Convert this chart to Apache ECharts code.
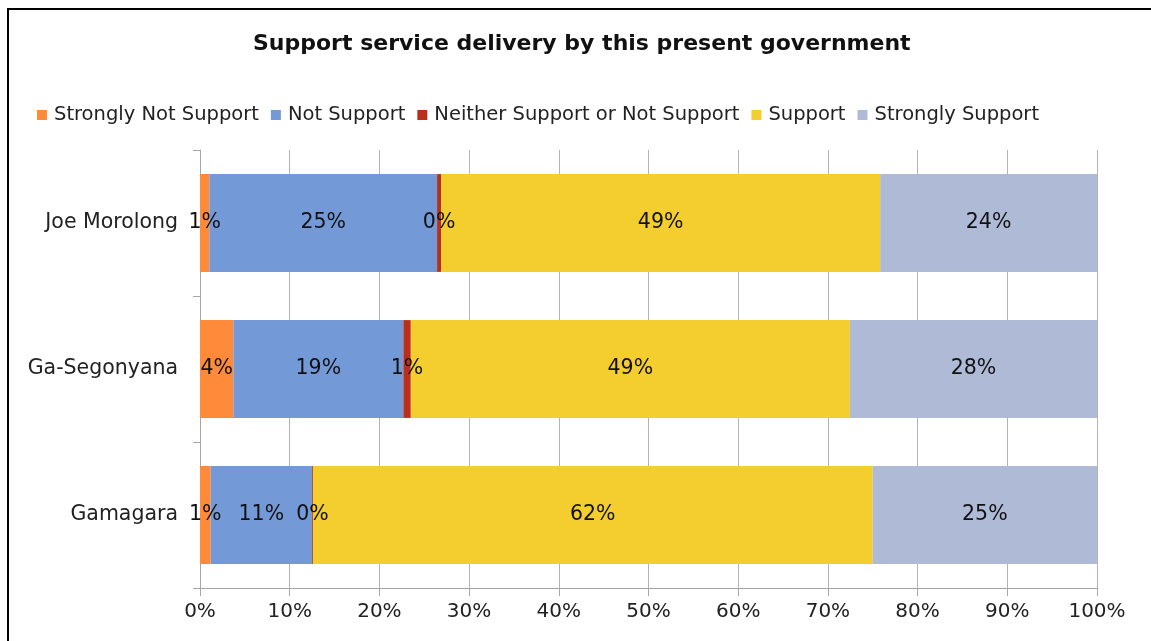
<!DOCTYPE html>
<html>
<head>
<meta charset="utf-8">
<script src="https://cdn.jsdelivr.net/npm/echarts@6/dist/echarts.min.js"></script>
<style>
  html, body { margin: 0; padding: 0; background: #fff; }
  #chart { width: 1151px; height: 641px; }
</style>
</head>
<body>
<div id="chart"></div>
<script>
// Municipalities, listed top to bottom
const municipalities = ['Joe Morolong', 'Ga-Segonyana', 'Gamagara'];

// Share of respondents (%) per response, in the same order as municipalities
const stronglyNotSupport = [1.04, 3.72, 1.19];
const notSupport = [25.39, 18.95, 11.30];
const neitherSupport = [0.45, 0.83, 0.10];
const support = [48.95, 48.95, 62.40];
const stronglySupport = [24.17, 27.55, 25.01];

const xTicks = [0, 10, 20, 30, 40, 50, 60, 70, 80, 90, 100];

const FONT = 'DejaVu Sans';

const seriesDefs = [
  { name: 'Strongly Not Support', data: stronglyNotSupport, color: '#FF8A3A' },
  { name: 'Not Support', data: notSupport, color: '#7499D7' },
  { name: 'Neither Support or Not Support', data: neitherSupport, color: '#B92F1B' },
  { name: 'Support', data: support, color: '#F4CD2E' },
  { name: 'Strongly Support', data: stronglySupport, color: '#AEBAD6' }
];

const chart = echarts.init(document.getElementById('chart'), null, { renderer: 'canvas' });

chart.setOption({
  backgroundColor: '#fff',
  animation: false,
  title: {
    text: 'Support service delivery by this present government',
    left: 253,
    top: 33,
    padding: 0,
    textStyle: { fontFamily: FONT, fontWeight: 'bold', fontSize: 22, color: '#111' }
  },
  legend: {
    left: 32,
    top: 100,
    icon: 'rect',
    itemWidth: 10,
    itemHeight: 10,
    itemGap: 12,
    textStyle: { fontFamily: FONT, fontSize: 19.5, color: '#222', padding: [0, 0, 0, 2] },
    data: seriesDefs.map(s => s.name)
  },
  grid: { left: 200, right: 54, top: 150, bottom: 53 },
  xAxis: {
    type: 'value',
    min: xTicks[0],
    max: xTicks[xTicks.length - 1],
    interval: 10,
    axisLine: { show: true, lineStyle: { color: '#A6A6A6', width: 1 } },
    axisTick: { show: true, length: 8, lineStyle: { color: '#A6A6A6' } },
    splitLine: { show: true, lineStyle: { color: '#B4B4B4', width: 1 } },
    axisLabel: {
      formatter: '{value}%',
      fontFamily: FONT,
      fontSize: 20,
      color: '#222',
      margin: 14
    }
  },
  yAxis: {
    type: 'category',
    inverse: true,
    data: municipalities,
    axisLine: { show: true, lineStyle: { color: '#A6A6A6', width: 1 } },
    axisTick: { show: true, length: 7, lineStyle: { color: '#A6A6A6' } },
    axisLabel: { fontFamily: FONT, fontSize: 20.5, color: '#222', margin: 22 }
  },
  series: seriesDefs.map(s => ({
    name: s.name,
    type: 'bar',
    stack: 'total',
    barCategoryGap: '33%',
    data: s.data,
    itemStyle: { color: s.color },
    label: {
      show: true,
      position: 'inside',
      formatter: p => Math.round(p.value) + '%',
      fontFamily: FONT,
      fontSize: 20.5,
      color: '#111'
    }
  })),
  graphic: [{
    type: 'rect',
    silent: true,
    shape: { x: 8, y: 9, width: 1300, height: 800 },
    style: { fill: null, stroke: '#000', lineWidth: 2 },
    z: 100
  }]
});
</script>
</body>
</html>
